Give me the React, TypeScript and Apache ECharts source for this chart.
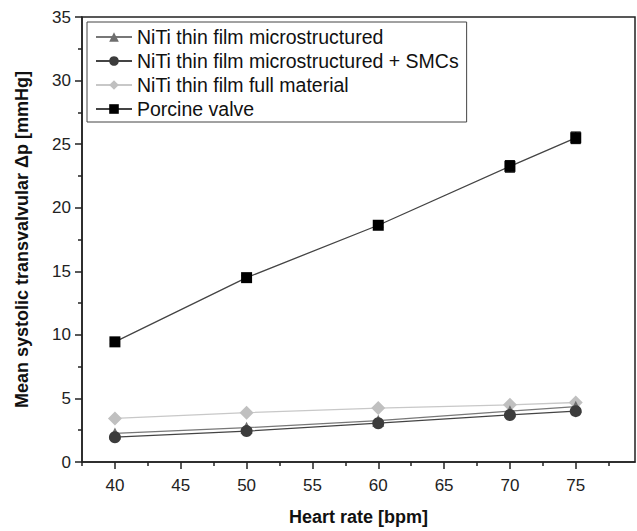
import React, { useEffect, useRef } from "react";
import * as echarts from "echarts";

const heartRates = [40, 50, 60, 70, 75];
const microstructured = [2.25, 2.7, 3.25, 4.0, 4.35];
const microSMC = [1.95, 2.43, 3.05, 3.7, 4.0];
const fullMaterial = [3.43, 3.88, 4.24, 4.5, 4.68];
const porcine = [9.45, 14.5, 18.62, 23.25, 25.5];
const porcineErr = [0.15, 0.15, 0.15, 0.45, 0.45];

const xMajorTicks = [40, 45, 50, 55, 60, 65, 70, 75];
const xMinorTicks = [37.5, 42.5, 47.5, 52.5, 57.5, 62.5, 67.5, 72.5, 77.5];

const seriesNames = [
  "NiTi thin film microstructured",
  "NiTi thin film microstructured + SMCs",
  "NiTi thin film full material",
  "Porcine valve",
];

const FONT = "'Liberation Sans', Arial, sans-serif";

function pairs(ys: number[]) {
  return heartRates.map((x, i) => [x, ys[i]]);
}

export default function App() {
  const ref = useRef<HTMLDivElement>(null);
  useEffect(() => {
    if (!ref.current) return;
    const chart = echarts.init(ref.current, undefined, { renderer: "svg" });
    const errData = heartRates.map((x, i) => [x, porcine[i] - porcineErr[i], porcine[i] + porcineErr[i]]);
    chart.setOption({
      animation: false,
      backgroundColor: "#ffffff",
      grid: {
        left: 82,
        top: 17,
        right: 2,
        bottom: 68,
        show: true,
        borderColor: "#222",
        borderWidth: 1.5,
        backgroundColor: "transparent",
      },
      legend: {
        data: seriesNames,
        orient: "vertical",
        left: 87,
        top: 22,
        itemWidth: 36,
        itemHeight: 12,
        itemGap: 4,
        padding: [5, 8, 3, 8],
        borderColor: "#444",
        borderWidth: 1,
        backgroundColor: "#fff",
        textStyle: { fontFamily: FONT, fontSize: 19.5, color: "#111", padding: [0, 0, 0, 0] },
      },
      xAxis: [
        {
          type: "value",
          min: 37.5,
          max: 79.5,
          name: "Heart rate [bpm]",
          nameLocation: "middle",
          nameGap: 46,
          nameTextStyle: { fontFamily: FONT, fontSize: 18, fontWeight: "bold", color: "#111" },
          axisLine: { onZero: false, lineStyle: { color: "#222", width: 1.5 } },
          axisTick: { show: true, length: 7, customValues: xMajorTicks, lineStyle: { color: "#222", width: 1.5 } },
          axisLabel: { customValues: xMajorTicks, fontFamily: FONT, fontSize: 17, color: "#222", margin: 15 },
          splitLine: { show: false },
        },
        {
          type: "value",
          min: 37.5,
          max: 79.5,
          position: "bottom",
          axisLine: { show: false },
          axisTick: { show: true, length: 4, customValues: xMinorTicks, lineStyle: { color: "#222", width: 1.5 } },
          axisLabel: { show: false },
          splitLine: { show: false },
        },
      ],
      yAxis: {
        type: "value",
        min: 0,
        max: 35,
        interval: 5,
        name: "Mean systolic transvalvular Δp [mmHg]",
        nameLocation: "middle",
        nameGap: 51,
        nameTextStyle: { fontFamily: FONT, fontSize: 18, fontWeight: "bold", color: "#111" },
        axisLine: { show: true, onZero: false, lineStyle: { color: "#222", width: 1.5 } },
        axisTick: { show: true, length: 7, lineStyle: { color: "#222", width: 1.5 } },
        minorTick: { show: true, splitNumber: 2, length: 4, lineStyle: { color: "#222", width: 1.5 } },
        axisLabel: { fontFamily: FONT, fontSize: 17, color: "#222", margin: 11 },
        splitLine: { show: false },
      },
      series: [
        {
          name: seriesNames[2],
          type: "line",
          data: pairs(fullMaterial),
          symbol: "diamond",
          symbolSize: 14,
          itemStyle: { color: "#c0c0c0" },
          lineStyle: { color: "#c8c8c8", width: 1.3 },
          z: 2,
        },
        {
          name: seriesNames[0],
          type: "line",
          data: pairs(microstructured),
          symbol: "triangle",
          symbolSize: 12,
          itemStyle: { color: "#6e6e6e" },
          lineStyle: { color: "#777", width: 1.3 },
          z: 3,
        },
        {
          name: seriesNames[1],
          type: "line",
          data: pairs(microSMC),
          symbol: "circle",
          symbolSize: 12,
          itemStyle: { color: "#3c3c3c" },
          lineStyle: { color: "#444", width: 1.3 },
          z: 4,
        },
        {
          name: "porcineErr",
          type: "custom",
          data: errData,
          z: 5,
          renderItem: (params: any, api: any) => {
            const x = api.value(0);
            const lo = api.coord([x, api.value(1)]);
            const hi = api.coord([x, api.value(2)]);
            const w = 5;
            const style = { stroke: "#111", lineWidth: 1.3 };
            return {
              type: "group",
              children: [
                { type: "line", shape: { x1: lo[0], y1: lo[1], x2: hi[0], y2: hi[1] }, style },
                { type: "line", shape: { x1: lo[0] - w, y1: lo[1], x2: lo[0] + w, y2: lo[1] }, style },
                { type: "line", shape: { x1: hi[0] - w, y1: hi[1], x2: hi[0] + w, y2: hi[1] }, style },
              ],
            };
          },
        },
        {
          name: seriesNames[3],
          type: "line",
          data: pairs(porcine),
          symbol: "rect",
          symbolSize: 11,
          itemStyle: { color: "#000" },
          lineStyle: { color: "#444", width: 1.3 },
          z: 6,
        },
      ],
    });
    return () => chart.dispose();
  }, []);
  return <div ref={ref} style={{ width: 637, height: 531, position: "absolute", left: 0, top: 0 }} />;
}
